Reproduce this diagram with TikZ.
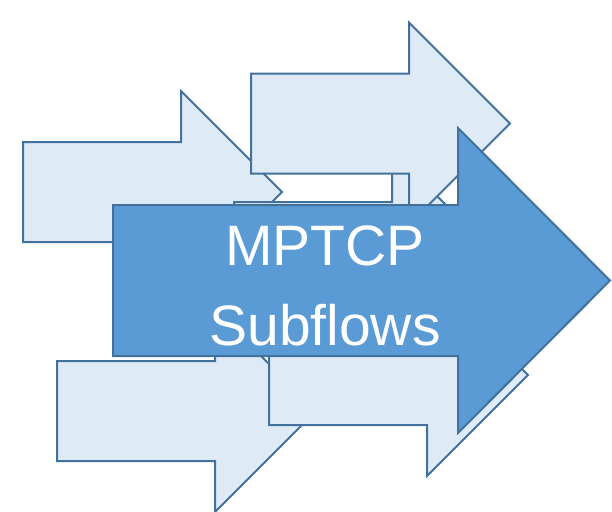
\documentclass[tikz,border=0pt]{standalone}
\usepackage{fontspec}
\setmainfont{Liberation Sans}
\definecolor{flowline}{HTML}{41719C}
\definecolor{flowpale}{HTML}{DEEBF7}
\definecolor{flowmain}{HTML}{5B9BD5}
\tikzset{
  smallarrow/.style={draw=flowline, fill=flowpale, line width=2pt, line join=miter},
  bigarrow/.style={draw=flowline, fill=flowmain, line width=2pt, line join=miter},
  flowtext/.style={text=white, anchor=base, inner sep=0pt, font=\fontsize{57}{68}\selectfont},
  pics/subflow/.style={code={
    \draw[smallarrow] (0,0) -- (158,0) -- (158,-51) -- (259,50) -- (158,151)
      -- (158,100) -- (0,100) -- cycle;
  }}
}
\begin{document}
\begin{tikzpicture}[x=1pt, y=-1pt]
  \useasboundingbox (0,0) rectangle (612,511);
  % the individual subflows, back to front
  \pic at (23,142) {subflow};
  \pic at (234,202) {subflow};
  \pic at (251,73.5) {subflow};
  \pic at (57,361) {subflow};
  \pic at (269,325) {subflow};
  % the aggregate connection on top
  \draw[bigarrow] (113,205) -- (458,205) -- (458,128) -- (610,280.5)
    -- (458,433) -- (458,356) -- (113,356) -- cycle;
  \node[flowtext] (line1) at (325,265) {MPTCP};
  \node[flowtext] (line2) at (325,345) {Subflows};
\end{tikzpicture}
\end{document}
